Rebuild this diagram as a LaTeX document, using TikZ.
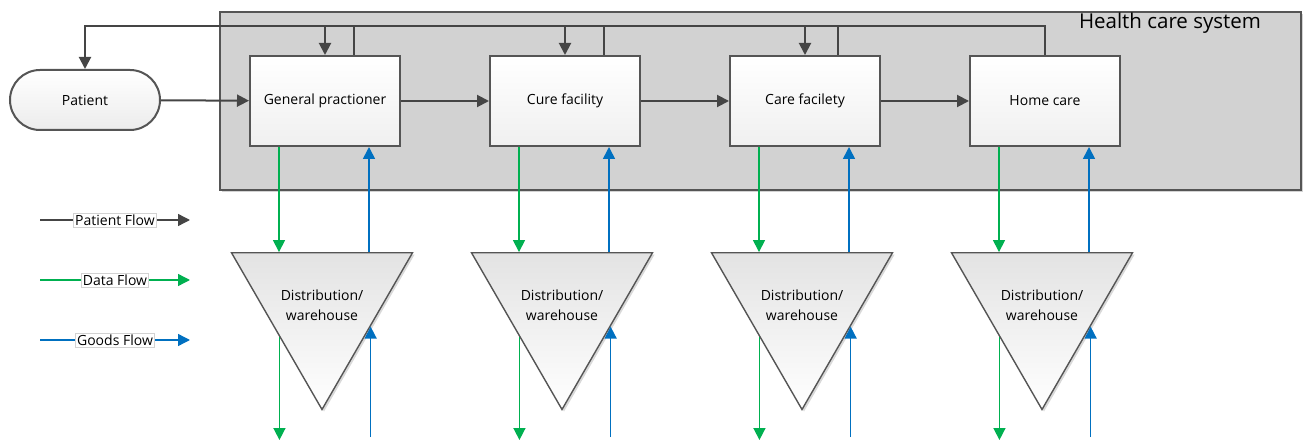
\documentclass[tikz,border=0pt]{standalone}
\usepackage{fontspec}
\setmainfont{Open Sans}
\usetikzlibrary{arrows.meta,shapes.geometric,shadows,calc}

\definecolor{flowgray}{HTML}{454545}
\definecolor{datagreen}{HTML}{00B050}
\definecolor{goodsblue}{HTML}{0070C0}
\definecolor{sysfill}{HTML}{D2D2D2}
\definecolor{edgegray}{HTML}{555555}

\begin{document}
\begin{tikzpicture}[x=1pt,y=-1pt,
	font=\fontsize{14}{20}\selectfont,
	sysbox/.style={draw=edgegray, line width=2pt, fill=sysfill, inner sep=0pt,
		drop shadow={shadow xshift=2pt, shadow yshift=-2pt, opacity=0.35}},
	procbox/.style={draw=edgegray, line width=2pt, top color=white, bottom color=gray!12,
		minimum width=150pt, minimum height=90pt, inner sep=0pt},
	terminal/.style={draw=edgegray, line width=2pt, rounded corners=30pt, top color=white,
		bottom color=gray!15, minimum width=150pt, minimum height=60pt, inner sep=0pt},
	store/.style={regular polygon, regular polygon sides=3, shape border rotate=180,
		minimum size=209pt, inner sep=0pt, draw=edgegray, line width=1.4pt,
		top color=gray!22, bottom color=white,
		drop shadow={shadow xshift=2pt, shadow yshift=-2pt, opacity=0.3}},
	storelbl/.style={align=center, inner sep=0pt},
	patline/.style={draw=flowgray, line width=2pt},
	patflow/.style={patline, -{Triangle[length=12pt,width=12pt]}},
	dataflow/.style={draw=datagreen, line width=1.6pt, -{Triangle[length=12pt,width=12pt]}},
	goodsflow/.style={draw=goodsblue, line width=1.6pt, -{Triangle[length=12pt,width=12pt]}},
	legendlbl/.style={fill=white, draw=gray!35, line width=0.5pt, inner sep=1.5pt,
		font=\fontsize{14}{16}\selectfont}
	]
	\useasboundingbox (0,0) rectangle (1306,446);

	% Health care system
	\node[sysbox, minimum width=1081pt, minimum height=178pt] (hcs) at (760.5,101) {};
	\node[font=\fontsize{20.5}{22}\selectfont] (hcstitle) at (1170,23) {Health care system};

	% Patient and care steps
	\node[terminal] (pat) at (85,100) {Patient};
	\node[procbox] (gp) at (325,101) {General practioner};
	\node[procbox] (cf) at (565,101) {Cure facility};
	\node[procbox] (ca) at (805,101) {Care facilety};
	\node[procbox] (hc) at (1045,101) {Home care};

	% Distribution / warehouse
	\foreach \i/\x in {1/322, 2/562, 3/802, 4/1042} {
		\node[store] (wh\i) at (\x,305) {};
		\node[storelbl] (wh\i lbl) at (wh\i) {Distribution/\\warehouse};
	}

	% Patient flow
	\coordinate (loopL) at (85,26);
	\draw[patflow] (pat) -- (gp);
	\draw[patflow] (gp) -- (cf);
	\draw[patflow] (cf) -- (ca);
	\draw[patflow] (ca) -- (hc);
	\draw[patflow] (hc.north) |- (loopL) -- (pat.north);
	\foreach \b/\s in {gp/29, cf/39, ca/33} {
		\draw[patflow] (\b.north |- loopL) -- (\b.north);
		\draw[patline] ([xshift=\s pt]\b.north) -- ([xshift=\s pt]\b.north |- loopL);
	}

	% Data and goods flow
	\coordinate (bottom) at (0,440);
	\coordinate (bottomb) at (0,437);
	\foreach \b/\w in {gp/wh1, cf/wh2, ca/wh3, hc/wh4} {
		\draw[dataflow] ([xshift=30pt]\b.south west) -- ([xshift=30pt]\b.south west |- \w.corner 3);
		\path ($(\w.corner 3)!0.536!(\w.corner 1)$) coordinate (\w dout)
			($(\w.corner 2)!0.4696!(\w.corner 1)$) coordinate (\w gin);
		\draw[dataflow] (\w dout) -- (\w dout |- bottom);
		\draw[goodsflow] (\w gin |- bottomb) -- (\w gin);
		\draw[goodsflow] ([xshift=120pt]\b.south west |- \w.corner 2) -- ([xshift=120pt]\b.south west);
	}

	% Legend
	\coordinate (lgp1) at (40,220);
	\coordinate (lgp2) at (190,220);
	\coordinate (lgd1) at (40,280);
	\coordinate (lgd2) at (190,280);
	\coordinate (lgg1) at (40,340);
	\coordinate (lgg2) at (190,340);
	\draw[patflow, line width=1.4pt] (lgp1) -- node[legendlbl] (lgpat) {Patient Flow} (lgp2);
	\draw[dataflow, line width=1.4pt] (lgd1) -- node[legendlbl] (lgdat) {Data Flow} (lgd2);
	\draw[goodsflow, line width=1.4pt] (lgg1) -- node[legendlbl] (lggds) {Goods Flow} (lgg2);
\end{tikzpicture}
\end{document}
